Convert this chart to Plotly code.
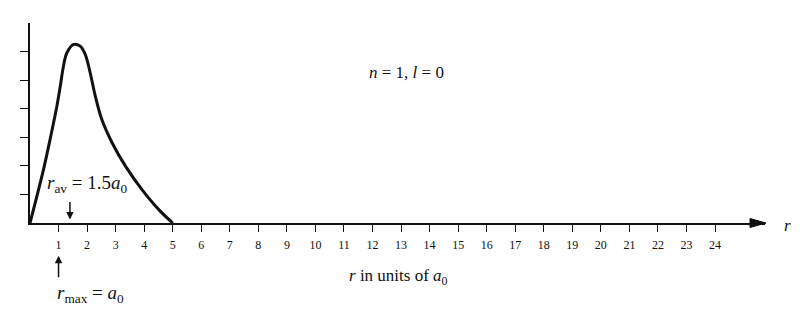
import plotly.graph_objects as go

# Radial probability curve (r in units of a0, arbitrary height units)
r_vals = [0.0, 0.47, 0.70, 0.94, 1.06, 1.17, 1.29, 1.53, 1.76, 1.94, 2.11, 2.29, 2.52, 2.88, 3.35, 3.93, 4.52, 5.0]
p_vals = [0.0, 1.86, 2.91, 4.08, 4.78, 5.48, 5.95, 6.25, 6.19, 5.89, 5.25, 4.43, 3.61, 2.80, 1.98, 1.16, 0.46, 0.0]

x_ticks = list(range(1, 25))
x_tick_labels = [str(v) for v in x_ticks]
y_ticks = [1, 2, 3, 4, 5, 6]

r_av_mark = 1.4
r_max_mark = 1.0

X_END = 25.75
Y_TOP = 7.0

FONT = "Liberation Serif, Times New Roman, serif"
INK = "#111111"


def px(xd):
    return xd / X_END


def py(yd):
    return yd / Y_TOP


fig = go.Figure()
fig.add_trace(go.Scatter(
    x=r_vals, y=p_vals, mode="lines",
    line=dict(color=INK, width=3, shape="spline", smoothing=1.0),
    cliponaxis=False, showlegend=False, hoverinfo="skip",
))

fig.update_layout(
    width=812, height=314,
    margin=dict(l=30, r=47, t=23, b=91),
    paper_bgcolor="white", plot_bgcolor="white",
    font=dict(family=FONT, color=INK),
    showlegend=False,
    xaxis=dict(
        range=[0, X_END], showgrid=False, zeroline=False,
        showline=True, linecolor=INK, linewidth=2,
        tickmode="array", tickvals=x_ticks, ticktext=x_tick_labels,
        ticks="outside", ticklen=7, tickwidth=1.3, tickcolor=INK,
        tickfont=dict(family=FONT, size=12, color=INK),
        ticklabelstandoff=3,
    ),
    yaxis=dict(
        range=[0, Y_TOP], showgrid=False, zeroline=False,
        showline=True, linecolor=INK, linewidth=2,
        tickmode="array", tickvals=y_ticks,
        ticks="outside", ticklen=8, tickwidth=1.3, tickcolor=INK,
        showticklabels=False,
    ),
)

# x-axis arrowhead
fig.add_shape(
    type="path", xref="paper", yref="paper",
    xsizemode="pixel", ysizemode="pixel",
    xanchor=1, yanchor=0,
    path="M -15,4.5 L 1,0 L -15,-4.5 Z",
    fillcolor=INK, line=dict(color=INK, width=1),
)

# r_av arrow (pointing down to axis)
fig.add_annotation(x=r_av_mark, y=0.12, xref="x", yref="y", text="",
                   showarrow=True, ax=0, ay=-19, arrowhead=2, arrowsize=1,
                   arrowwidth=1.5, arrowcolor=INK)
# r_max arrow (pointing up to tick 1)
fig.add_annotation(x=px(r_max_mark), y=py(-1.15), xref="paper", yref="paper", text="",
                   showarrow=True, ax=0, ay=23, arrowhead=2, arrowsize=1,
                   arrowwidth=1.5, arrowcolor=INK)

fig.add_annotation(x=0.52, y=1.36, xref="x", yref="y", xanchor="left", yanchor="middle",
                   text="<i>r</i><sub>av</sub> = 1.5<i>a</i><sub>0</sub>",
                   showarrow=False, font=dict(family=FONT, size=19, color=INK))
fig.add_annotation(x=px(0.88), y=py(-2.47), xref="paper", yref="paper",
                   xanchor="left", yanchor="middle",
                   text="<i>r</i><sub>max</sub> = <i>a</i><sub>0</sub>",
                   showarrow=False, font=dict(family=FONT, size=19, color=INK))
fig.add_annotation(x=11.8, y=5.26, xref="x", yref="y", xanchor="left", yanchor="middle",
                   text="<i>n</i> = 1, <i>l</i> = 0",
                   showarrow=False, font=dict(family=FONT, size=17, color=INK))
fig.add_annotation(x=px(11.1), y=py(-1.88), xref="paper", yref="paper",
                   xanchor="left", yanchor="middle",
                   text="<i>r</i> in units of <i>a</i><sub>0</sub>",
                   showarrow=False, font=dict(family=FONT, size=17, color=INK))
fig.add_annotation(x=px(26.55), y=0, xref="paper", yref="paper",
                   xanchor="center", yanchor="middle",
                   yshift=-2, text="<i>r</i>",
                   showarrow=False, font=dict(family=FONT, size=17, color=INK))

fig.write_html("out.html")
